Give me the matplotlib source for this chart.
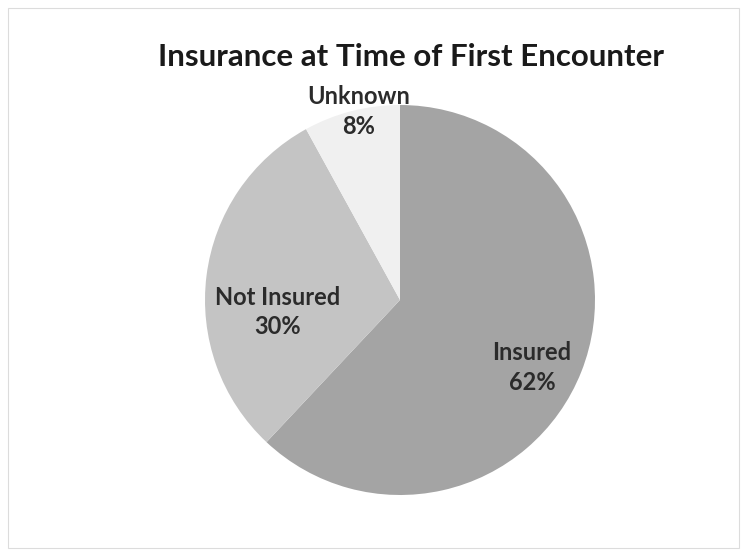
import matplotlib
matplotlib.use("Agg")
import matplotlib.pyplot as plt
import numpy as np

labels = ["Insured", "Not Insured", "Unknown"]
shares = [62, 30, 8]
colors = ["#a4a4a4", "#c4c4c4", "#f0f0f0"]

plt.rcParams['font.family'] = ['Lato', 'DejaVu Sans']

fig = plt.figure(figsize=(7.47, 5.54), dpi=100)
# pie centre at about (400, 300) px, radius 195 px
ax = fig.add_axes([(400 - 195) / 747, (554 - 495) / 554, 390 / 747, 390 / 554])
wedges, _ = ax.pie(shares, colors=colors, startangle=90, counterclock=False,
                   radius=1.0, wedgeprops=dict(linewidth=0))
ax.set_xlim(-1, 1)
ax.set_ylim(-1, 1)
ax.axis("off")

# label placement: angle offset from wedge middle, radial distance
offsets = [-5.4, 12.8, -1.9]
dists = [0.76, 0.63, 0.99]
for w, lab, val, off, d in zip(wedges, labels, shares, offsets, dists):
    mid = np.deg2rad((w.theta1 + w.theta2) / 2 + off)
    ax.text(d * np.cos(mid), d * np.sin(mid), f"{lab}\n{val}%",
            ha="center", va="center", fontsize=17, fontweight="bold",
            color="#2b2b2b", linespacing=1.35)

fig.text(411 / 747, 1 - 57 / 554, "Insurance at Time of First Encounter",
         ha="center", va="center", fontsize=22.5, fontweight="bold", color="#1a1a1a")

fig.patches.append(plt.Rectangle((8 / 747, 6 / 554), 731 / 747, 540 / 554,
                                 transform=fig.transFigure, fill=False,
                                 edgecolor="#dcdcdc", linewidth=0.8))

fig.savefig("out.png", dpi=100, facecolor="white")
